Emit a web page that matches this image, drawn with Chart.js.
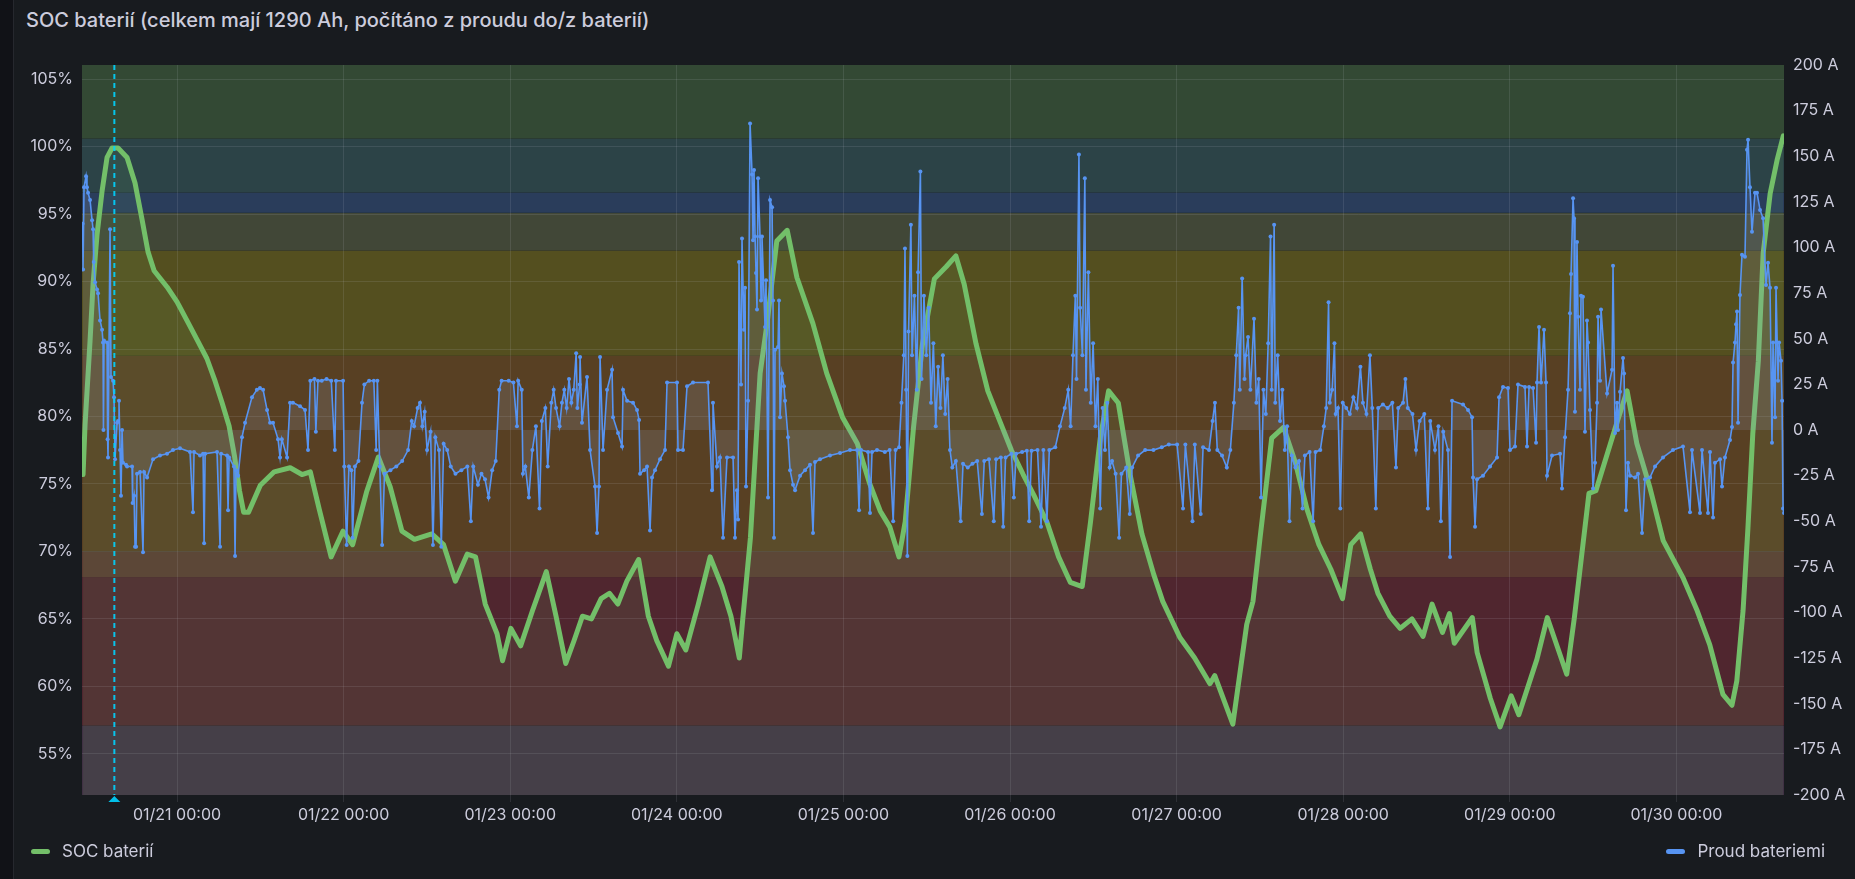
<!DOCTYPE html>
<html>
<head>
<meta charset="utf-8">
<script src="https://cdn.jsdelivr.net/npm/chart.js@4.4.1/dist/chart.umd.min.js"></script>
<style>
html,body{margin:0;padding:0;background:#111217;width:1855px;height:879px;overflow:hidden;font-family:Inter,"Noto Sans",sans-serif;}
#panel{position:absolute;left:13px;top:0;width:1842px;height:879px;background:#181b1f;border-left:1px solid #26282e;}
#title{position:absolute;left:26px;top:8px;font-size:20px;font-weight:500;color:#ccccdc;white-space:nowrap;}
#chart{position:absolute;left:0;top:0;}
.leg{position:absolute;top:840px;font-size:17px;color:#ccccdc;display:flex;align-items:center;height:22px;}
.sw{width:19px;height:5px;border-radius:3px;margin-right:12px;}
</style>
</head>
<body>
<div id="panel"></div>
<div id="title">SOC baterií (celkem mají 1290 Ah, počítáno z proudu do/z baterií)</div>
<canvas id="chart" width="1855" height="879"></canvas>
<div class="leg" style="left:31px"><div class="sw" style="background:#73bf69"></div>SOC baterií</div>
<div class="leg" style="right:30px"><div class="sw" style="background:#5794f2"></div>Proud bateriemi</div>
<script>
// hours from 01/21 00:00
var xMin = -13.69;
var xMax = 231.5;
var dayTicks = [0, 24, 48, 72, 96, 120, 144, 168, 192, 216];
var socTicks = [55, 60, 65, 70, 75, 80, 85, 90, 95, 100, 105];
var ampTicks = [-200, -175, -150, -125, -100, -75, -50, -25, 0, 25, 50, 75, 100, 125, 150, 175, 200];
var socMin = 51.95, socMax = 106.05;
var annotationHour = -9.03;

// background regions (SOC %)
var bandEdges = [51.95, 57.1, 68.1, 70, 84.5, 92.3, 95.1, 96.6, 100.6, 106.05];
var bandColors = ["#403144", "#50262f", "#5a3a31", "#584023", "#544f1f", "#414737", "#2a3d5b", "#2c4347", "#334934"];

// SOC baterií [hour, %]
var socSeries = [
[-13.54,75.7],[-13.25,79.4],[-12.53,85.6],[-12.1,89.8],[-11.52,93.5],[-10.8,96.7],[-10.08,99.2],[-9.36,99.9],[-8.5,99.9],[-7.2,99.2],
[-6.05,97.3],[-5.04,94.6],[-4.18,92.2],[-3.3,90.8],[-1.44,89.6],[0,88.5],[1.44,87.1],[2.88,85.7],[4.3,84.3],[5.5,82.6],
[6.5,81.0],[7.5,79.3],[8.3,77.0],[9.0,74.5],[9.6,72.9],[10.3,72.9],[12.0,74.9],[14.0,75.9],[16.3,76.2],[18.0,75.7],
[19.2,75.9],[20.5,73.1],[22.2,69.6],[23.9,71.5],[25.3,70.5],[27.3,74.4],[29.0,77.0],[30.7,74.8],[32.4,71.5],[34.2,70.9],
[36.7,71.3],[38.4,70.5],[40.1,67.8],[41.8,69.8],[43.0,69.6],[44.4,66.1],[46.1,63.9],[46.9,61.9],[48.1,64.3],[49.5,63.0],
[51.2,65.6],[53.2,68.5],[54.6,65.2],[56.0,61.7],[57.2,63.4],[58.4,65.2],[59.7,65.0],[61.1,66.5],[62.3,66.9],[63.5,66.1],
[64.8,67.8],[66.5,69.4],[67.9,65.2],[69.1,63.4],[70.8,61.5],[72.0,63.9],[73.3,62.7],[75.1,66.1],[76.8,69.6],[78.5,67.4],
[79.8,65.2],[81.0,62.1],[81.5,65.0],[82.6,71.0],[84.0,83.2],[85.0,86.9],[86.4,93.0],[87.9,93.8],[89.3,90.3],[91.6,86.9],
[93.6,83.2],[95.9,79.9],[98.0,78.0],[99.8,75.0],[101.3,73.0],[102.7,71.8],[104.0,69.6],[104.9,72.2],[106.1,79.2],[107.4,85.4],
[109.1,90.2],[110.8,91.1],[112.2,91.9],[113.4,89.8],[115.1,85.4],[116.8,81.9],[118.5,79.7],[120.2,77.5],[121.9,75.7],[123.6,74.0],
[125.3,72.2],[127.0,69.6],[128.7,67.7],[130.4,67.4],[131.6,72.2],[133.0,78.4],[134.2,81.9],[135.6,81.0],[137.3,75.7],[139.0,71.3],
[140.7,68.3],[142.0,66.3],[144.5,63.6],[146.6,62.1],[148.8,60.2],[149.5,60.8],[152.1,57.2],[154.1,64.6],[155.0,66.3],[156.0,70.9],
[157.7,78.4],[159.4,79.2],[161.1,76.6],[162.8,73.1],[164.5,70.5],[166.2,68.7],[167.9,66.5],[169.1,70.5],[170.5,71.3],[171.9,68.7],
[173.0,66.9],[174.7,65.2],[176.2,64.3],[177.9,65.0],[179.5,63.7],[180.8,66.1],[182.3,64.0],[183.3,65.4],[184.0,63.2],[186.6,65.1],
[187.3,62.5],[189.2,59.1],[190.6,57.0],[192.2,59.3],[193.3,57.9],[195.9,62.0],[197.4,65.1],[200.2,60.9],[201.3,65.1],[203.4,74.3],
[204.4,74.5],[207.4,79.5],[208.9,81.9],[210.3,78.0],[212.2,74.7],[214.1,70.8],[217.0,68.0],[219.0,65.6],[220.8,63.1],[222.7,59.4],
[224.0,58.6],[224.7,60.4],[225.6,65.6],[226.3,71.7],[227.0,78.7],[227.8,84.1],[228.5,92.1],[229.5,96.5],[230.5,99.0],[231.4,100.8]
];

// Proud bateriemi [hour, A]
var currentSeries = [
[-13.6,113],[-13.54,88],[-13.4,133],[-13.11,139],[-12.97,133],[-12.82,130],[-12.53,126],[-12.24,115],[-12.1,110],[-12.0,92],
[-11.81,81],[-11.52,77],[-11.38,75],[-11.09,60],[-10.8,55],[-10.66,48],[-10.6,0],[-10.52,49],[-10.08,48],[-10.0,-5],
[-9.94,-15],[-9.65,110],[-9.51,29],[-9.22,27],[-9.08,18],[-8.93,-16],[-8.64,4],[-8.5,5],[-8.36,16],[-8.21,-11],
[-8.07,-36],[-7.92,0],[-7.78,-18],[-7.35,-19],[-7.2,-20],[-6.48,-20],[-6.4,-40],[-6.19,-36],[-6.05,-64],[-5.9,-64],
[-5.76,-24],[-5.33,-23],[-4.9,-67],[-4.75,-23],[-4.32,-26],[-3.46,-16],[-2.45,-14],[-1.44,-13],[-0.58,-11],[0.43,-10],
[1.87,-12],[2.3,-45],[2.45,-12],[3.31,-14],[3.75,-13],[3.9,-62],[4.05,-13],[5.76,-12],[6.2,-64],[6.35,-13],
[7.2,-14],[7.35,-44],[7.5,-15],[8.2,-20],[8.36,-69],[8.5,-22],[8.8,-25],[9.36,-4],[9.8,4],[10.8,18],
[11.5,22],[11.95,23],[12.4,22],[12.97,11],[13.4,4],[13.83,4],[14.55,-5],[14.84,-15],[15.1,-5],[15.85,-15],
[16.28,15],[16.7,15],[17.72,13],[18.44,11],[18.87,-11],[19.2,27],[19.8,28],[20.0,-1],[20.3,27],[20.85,27],
[21.54,28],[22.22,27],[22.73,-11],[22.9,27],[23.92,27],[24.09,-20],[24.43,-63],[24.77,-20],[25.12,-22],[25.29,-59],
[25.63,-20],[26.14,-17],[26.65,15],[26.99,25],[27.67,27],[28.35,27],[28.69,-11],[28.86,27],[29.21,-20],[29.55,-63],
[29.89,-24],[30.74,-22],[31.59,-20],[32.44,-17],[33.29,-11],[33.81,5],[34.15,2],[34.66,12],[35.0,15],[35.34,2],
[35.68,10],[36.02,-11],[36.53,-1],[36.87,-63],[37.21,-4],[37.73,-11],[38.07,-64],[38.41,-7.5],[38.92,-11],[39.43,-20],
[40.11,-24],[40.96,-22],[41.82,-20],[42.33,-50],[42.67,-20],[43.35,-30],[43.86,-24],[44.37,-27],[44.88,-37],[45.4,-22],
[45.91,-17],[46.42,22],[46.76,27],[47.78,27],[48.46,26],[48.97,2],[49.14,27],[49.66,22],[49.83,-24],[50.17,-20],
[50.68,-37],[51.19,-11],[51.7,2],[52.22,-43],[52.55,5],[53.06,12],[53.4,-20],[53.92,15],[54.26,22],[54.6,12],
[55.11,2],[55.45,15],[55.79,22],[56.13,12],[56.47,28],[56.81,15],[57.15,22],[57.5,42],[57.67,12],[58.01,25],
[58.06,40],[58.34,4],[59.06,29],[59.5,-11],[60.22,-31],[60.51,-56.5],[60.79,-31],[60.94,40],[61.37,-11],[61.95,22],
[62.67,33],[62.81,7],[63.53,-1.6],[64.11,-9],[64.25,22],[64.83,16],[65.69,15],[66.27,11],[66.56,5.5],[66.7,-24],
[67.28,-22],[67.71,-20],[68.14,-55],[68.43,-26],[68.86,-22],[69.58,-16],[70.3,-11],[70.59,26],[72.03,26],[72.17,-11],
[72.89,-11],[73.47,24],[74.33,26],[76.49,26],[77.07,-33],[77.21,15],[77.79,-20],[78.22,-15],[78.66,-59],[79.23,-15],
[80.1,-15],[80.38,-59],[80.67,-33],[80.82,-49],[80.96,92],[81.25,25],[81.39,105],[81.68,55],[81.83,78],[81.97,-31],
[82.26,16],[82.55,168],[82.84,140],[82.98,104],[83.12,142.5],[83.27,106],[83.41,86],[83.55,66],[83.7,138],[83.99,106],
[84.13,71],[84.27,106],[84.71,56.5],[84.85,82],[85.14,-37],[85.43,126],[85.72,122],[85.86,71],[86.0,-59],[86.15,44],
[86.58,45.5],[86.72,71],[86.87,7],[87.15,31],[87.44,24],[87.59,16],[88.02,-4],[88.31,-22],[88.74,-30],[89.03,-33],
[89.75,-25],[90.47,-22],[91.19,-19],[91.62,-56.5],[91.91,-17.5],[92.63,-16],[94.07,-14],[95.51,-12.6],[96.95,-11],[97.96,-11],
[98.25,-44],[98.54,-11],[99.55,-12],[99.83,-45.5],[100.12,-12],[100.84,-11],[101.97,-12],[102.66,-11],[103.17,-50],[103.51,-11],
[104.02,-9.5],[104.36,15],[104.7,41],[104.87,99.5],[105.04,22],[105.21,-69],[105.38,54],[105.72,112.5],[105.89,41],[106.23,73.5],
[106.57,22],[106.75,86.5],[107.09,141.7],[107.26,28],[107.6,73.5],[107.94,41],[108.28,67],[108.62,15],[108.96,47.6],[109.3,2],
[109.64,34.6],[109.98,12],[110.33,41],[110.67,8.7],[111.01,28],[111.35,-11],[111.69,-20.5],[112.2,-17],[112.89,-50],[113.23,-18.5],
[113.91,-20.5],[114.59,-18.5],[115.27,-17],[115.95,-46],[116.29,-17],[116.97,-16],[117.66,-50],[118.0,-16],[118.68,-15],[119.02,-53],
[119.36,-15],[120.21,-13],[120.55,-37],[120.89,-13],[121.74,-12],[122.42,-11.4],[122.76,-50],[123.1,-11.4],[123.96,-11],[124.47,-53],
[124.81,-11],[125.32,-50],[125.66,-11],[126.52,-9.5],[127.2,2],[127.88,12],[128.39,22],[128.73,2],[129.07,41],[129.41,73.5],
[129.58,28],[129.93,151],[130.1,67],[130.43,41],[130.78,138],[130.94,22],[131.29,86.5],[131.63,15],[131.97,47.6],[132.31,2],
[132.65,28],[132.99,-43],[133.34,12],[133.68,-11],[134.01,15],[134.35,-20.5],[134.7,-17],[135.21,-24],[135.72,-59],[136.06,-24],
[136.74,-20.5],[137.25,-46],[137.59,-20.5],[138.45,-14],[139.47,-11],[140.66,-11],[141.86,-9.5],[142.88,-8],[144.07,-8],[144.92,-43],
[145.26,-8],[146.29,-50],[146.62,-8],[147.47,-46],[147.81,-9.5],[148.67,-11],[149.18,5],[149.52,15],[149.86,-11],[150.54,-14],
[151.23,-20.5],[151.74,-11],[152.25,15],[152.59,41],[152.93,67],[153.1,22],[153.44,83],[153.78,28],[153.95,41],[154.29,51],
[154.63,22],[155.15,61],[155.49,15],[155.83,28],[156.17,-37],[156.51,22],[156.85,8.7],[157.19,47.6],[157.53,106],[157.7,22],
[158.05,112.5],[158.21,15],[158.56,41],[158.9,5],[159.24,22],[159.58,-11],[159.92,2],[160.26,-50],[160.6,-14],[161.11,-20.5],
[161.63,-17],[162.14,-43],[162.48,-14],[163.16,-12],[163.67,-50],[164.01,-12],[164.7,-11],[165.21,2],[165.55,12],[165.89,70],
[166.06,15],[166.4,22],[166.74,47.6],[166.91,8.7],[167.25,12],[167.59,-43],[167.93,15],[168.44,12],[168.95,8.7],[169.46,18],
[169.98,12],[170.48,34.6],[170.84,15],[171.35,8.7],[171.85,41],[172.19,12],[172.7,-43],[173.04,12],[173.72,14],[174.4,12],
[175.08,15],[175.6,-20.5],[175.93,12],[176.62,15],[176.96,28],[177.3,12],[177.98,8.7],[178.49,-11],[179.0,5],[179.68,8.7],
[180.2,-43],[180.54,5],[181.22,-11],[181.72,2],[182.07,-50],[182.41,-1],[183.09,-11],[183.39,-69.6],[183.68,16],[185.26,14],
[185.98,11],[186.56,7],[186.7,-26],[186.99,-53],[187.28,-27],[188.14,-25],[189.15,-20],[190.16,-15],[190.45,18],[191.02,23.6],
[191.74,23],[192.03,-11],[192.75,-9],[193.18,25],[194.19,23.6],[194.48,-9],[194.77,23.6],[195.35,23],[195.78,-7],[195.92,26],
[196.21,56.5],[196.5,26],[196.93,55],[197.22,26],[197.36,-25],[198.08,-14],[199.23,-13],[199.52,-32],[199.95,-4],[200.39,22],
[200.67,64],[200.82,85.5],[201.11,127],[201.25,116],[201.39,10],[201.68,103],[201.83,62],[202.11,22],[202.26,73.5],[202.54,73],
[202.83,-1],[203.12,60],[203.27,48],[203.55,11],[203.99,-32],[204.28,-18],[204.57,15],[204.71,62],[205.0,27],[205.14,66],
[206.01,20],[206.73,33],[206.87,90],[207.16,-1.6],[207.45,15],[207.59,0],[207.88,21],[208.31,39.5],[208.46,31],[208.74,-44],
[209.03,-18],[209.32,-25],[210.04,-26],[210.47,-24],[211.05,-56.5],[211.48,-27],[212.2,-26],[212.92,-20],[214.07,-15],[215.51,-11],
[216.95,-9],[217.96,-45],[218.25,-11],[219.4,-45.5],[219.69,-11],[220.55,-45.5],[220.84,-12],[221.28,-48],[221.56,-18],[222.28,-16],
[222.57,-31],[223.0,-15],[223.72,-5.5],[224.01,1.6],[224.16,37],[224.44,48],[224.59,58],[224.73,65],[224.88,4],[225.16,74],
[225.45,96],[225.88,95],[226.17,153.5],[226.32,159],[226.6,133],[226.89,108.6],[227.32,130],[227.61,130],[228.05,120.6],[228.48,116],
[228.91,79.5],[229.2,91.6],[229.49,78],[229.77,-7],[229.92,48],[230.21,7],[230.35,78],[230.64,27],[230.79,48],[231.07,38],
[231.22,16],[231.36,-43],[231.5,-45.5]
];

var textColor = "#ccccdc";
var gridColor = "rgba(204,204,220,0.12)";
var socColor = "#73bf69";
var ampColor = "#5794f2";
var annColor = "rgba(0,211,255,0.9)";

Chart.defaults.font.family = "Inter";
Chart.defaults.font.size = 16;
Chart.defaults.color = textColor;

function dayLabel(v) {
  var d = 21 + Math.round(v / 24);
  return "01/" + (d < 10 ? "0" + d : d) + " 00:00";
}

var bandsPlugin = {
  id: "bands",
  beforeDraw: function(chart) {
    var ctx = chart.ctx, a = chart.chartArea, y = chart.scales.y;
    ctx.save();
    for (var i = 0; i < bandEdges.length - 1; i++) {
      var top = y.getPixelForValue(bandEdges[i + 1]);
      var bot = y.getPixelForValue(bandEdges[i]);
      ctx.fillStyle = bandColors[i];
      ctx.fillRect(a.left, top, a.right - a.left, bot - top);
    }
    ctx.restore();
  }
};

var annotationPlugin = {
  id: "annot",
  afterDatasetsDraw: function(chart) {
    var ctx = chart.ctx, a = chart.chartArea;
    var x = chart.scales.x.getPixelForValue(annotationHour);
    ctx.save();
    ctx.strokeStyle = annColor;
    ctx.lineWidth = 2;
    ctx.setLineDash([5, 4]);
    ctx.beginPath();
    ctx.moveTo(x, a.top);
    ctx.lineTo(x, a.bottom);
    ctx.stroke();
    ctx.setLineDash([]);
    ctx.fillStyle = annColor;
    ctx.beginPath();
    ctx.moveTo(x - 6, a.bottom + 7);
    ctx.lineTo(x + 6, a.bottom + 7);
    ctx.lineTo(x, a.bottom + 1);
    ctx.closePath();
    ctx.fill();
    ctx.restore();
  }
};

new Chart("chart", {
  type: "line",
  data: {
    datasets: [{
      label: "SOC baterií",
      data: socSeries.map(function(p) { return {x: p[0], y: p[1]}; }),
      yAxisID: "y",
      borderColor: socColor,
      backgroundColor: "rgba(115,191,105,0.1)",
      borderWidth: 5,
      borderJoinStyle: "round",
      borderCapStyle: "round",
      pointRadius: 0,
      fill: "start",
      tension: 0,
      order: 2
    }, {
      label: "Proud bateriemi",
      data: currentSeries.map(function(p) { return {x: p[0], y: p[1]}; }),
      yAxisID: "y2",
      borderColor: ampColor,
      backgroundColor: "rgba(150,160,190,0.18)",
      borderWidth: 1.6,
      pointRadius: 2,
      pointBorderWidth: 0,
      pointBackgroundColor: ampColor,
      fill: "origin",
      tension: 0,
      order: 1
    }]
  },
  options: {
    responsive: false,
    animation: false,
    layout: {padding: {top: 65, bottom: 44, left: 0, right: 0}},
    plugins: {legend: {display: false}, tooltip: {enabled: false}},
    scales: {
      x: {
        type: "linear", min: xMin, max: xMax,
        afterBuildTicks: function(s) { s.ticks = dayTicks.map(function(v) { return {value: v}; }); },
        afterFit: function(s) { s.height = 40; },
        grid: {color: gridColor, tickLength: 7},
        border: {display: false},
        ticks: {padding: 4, maxRotation: 0, autoSkip: false, callback: dayLabel}
      },
      y: {
        position: "left", min: socMin, max: socMax,
        afterBuildTicks: function(s) { s.ticks = socTicks.map(function(v) { return {value: v}; }); },
        afterFit: function(s) { s.width = 82; },
        grid: {color: gridColor, drawTicks: false},
        border: {display: false},
        ticks: {padding: 9, callback: function(v) { return v + "%"; }}
      },
      y2: {
        position: "right", min: -200, max: 200,
        afterBuildTicks: function(s) { s.ticks = ampTicks.map(function(v) { return {value: v}; }); },
        afterFit: function(s) { s.width = 71; },
        grid: {display: false, drawTicks: false},
        border: {display: false},
        ticks: {padding: 9, callback: function(v) { return v + " A"; }}
      }
    }
  },
  plugins: [bandsPlugin, annotationPlugin]
});
</script>
</body>
</html>
